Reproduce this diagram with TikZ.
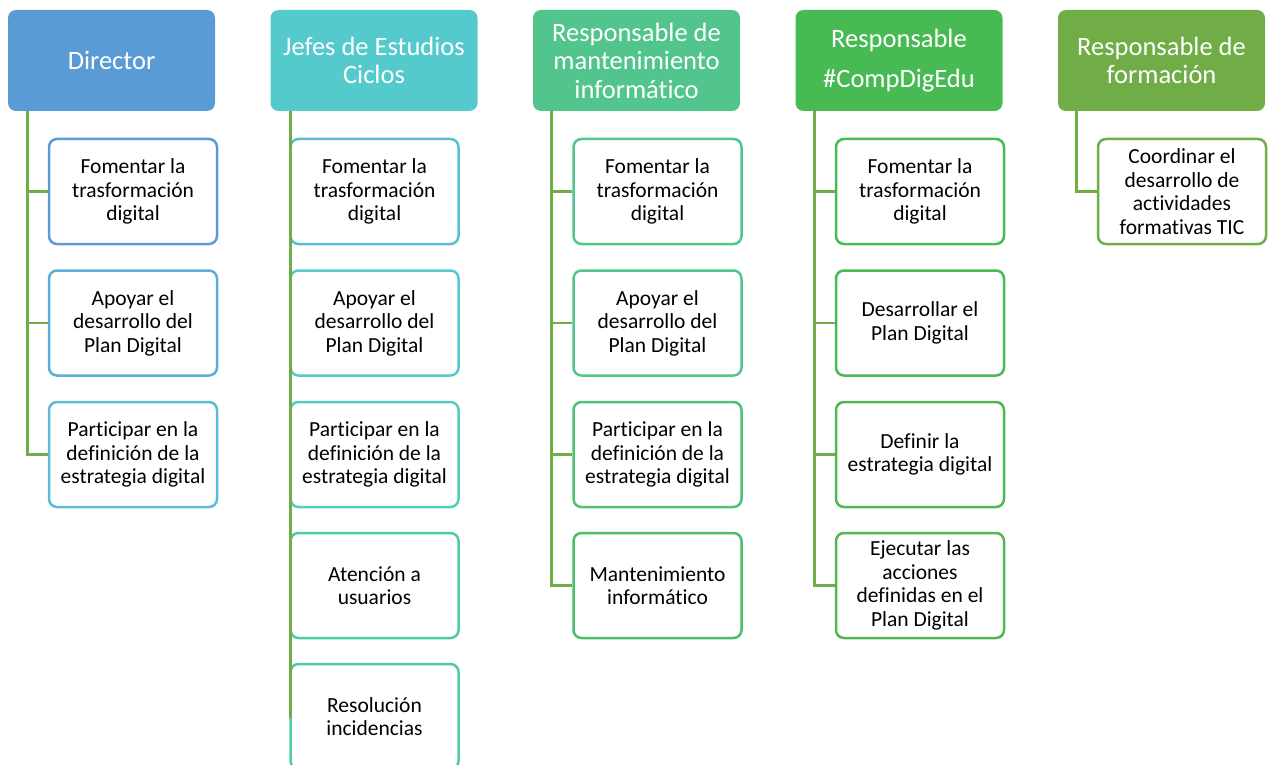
\documentclass[tikz,border=0pt]{standalone}
\usepackage{fontspec}
\setmainfont{Carlito}[Ligatures=NoCommon]
\usepackage{xcolor}
\usepackage{tikz}
\definecolor{ogblue}{HTML}{5B9BD5}
\definecolor{ogsky}{HTML}{5AAED8}
\definecolor{ogcyan}{HTML}{5BBCD6}
\definecolor{ogteal}{HTML}{54CACC}
\definecolor{ogaqua}{HTML}{53CCBF}
\definecolor{ogsea}{HTML}{4FC9A8}
\definecolor{ogmint}{HTML}{52C58D}
\definecolor{oggreen}{HTML}{47BA54}
\definecolor{ogolive}{HTML}{70AD47}

\begin{document}
\begin{tikzpicture}[x=1pt, y=-1pt,
  head/.style={rounded corners=8pt, minimum width=207pt, minimum height=101pt, inner sep=2pt, align=center, text=white, font=\fontsize{26.5}{28.5}\selectfont},
  task/.style={draw, line width=2.5pt, fill=white, rounded corners=8pt, minimum width=168pt, minimum height=105pt, inner sep=2pt, align=center, text=black, font=\fontsize{21.5}{23.5}\selectfont},
  link/.style={draw=ogolive, line width=2.7pt}]
  \useasboundingbox (0,0) rectangle (1272,765);
  \node[head, fill=ogblue] (dir) at (111.5,60.5) {Director};
  \node[head, fill=ogteal] (jef) at (374,60.5) {Jefes de Estudios\\Ciclos};
  \node[head, fill=ogmint] (man) at (636.5,60.5) {Responsable de\\mantenimiento\\informático};
  \node[head, fill=oggreen] (cdd) at (899,60.5) {Responsable\\[11pt]\#CompDigEdu};
  \node[head, fill=ogolive] (for) at (1161.5,60.5) {Responsable de\\formación};

  \node[task, draw=ogblue] (dir1) at (133,191.5) {Fomentar la\\trasformación\\digital};
  \node[task, draw=ogsky] (dir2) at (133,323) {Apoyar el\\desarrollo del\\Plan Digital};
  \node[task, draw=ogcyan] (dir3) at (133,454.5) {Participar en la\\definición de la\\estrategia digital};

  \node[task, draw=ogcyan] (jef1) at (374.5,191.5) {Fomentar la\\trasformación\\digital};
  \node[task, draw=ogteal] (jef2) at (374.5,323) {Apoyar el\\desarrollo del\\Plan Digital};
  \node[task, draw=ogaqua] (jef3) at (374.5,454.5) {Participar en la\\definición de la\\estrategia digital};
  \node[task, draw=ogsea] (jef4) at (374.5,585.5) {Atención a\\usuarios};
  \node[task, draw=ogsea] (jef5) at (374.5,716.5) {Resolución\\incidencias};

  \node[task, draw=ogmint] (man1) at (657.5,191.5) {Fomentar la\\trasformación\\digital};
  \node[task, draw=ogmint] (man2) at (657.5,323) {Apoyar el\\desarrollo del\\Plan Digital};
  \node[task, draw=ogmint!60!oggreen] (man3) at (657.5,454.5) {Participar en la\\definición de la\\estrategia digital};
  \node[task, draw=ogmint!40!oggreen] (man4) at (657.5,585.5) {Mantenimiento\\informático};

  \node[task, draw=oggreen] (cdd1) at (920,191.5) {Fomentar la\\trasformación\\digital};
  \node[task, draw=oggreen] (cdd2) at (920,323) {Desarrollar el\\Plan Digital};
  \node[task, draw=oggreen!80!ogolive] (cdd3) at (920,454.5) {Definir la\\estrategia digital};
  \node[task, draw=oggreen!70!ogolive] (cdd4) at (920,585.5) {Ejecutar las\\acciones\\definidas en el\\Plan Digital};

  \node[task, draw=ogolive] (for1) at (1182,191.5) {Coordinar el\\desarrollo de\\actividades\\formativas TIC};

  \draw[link] ([xshift=20pt]dir.south west) |- (dir1.west);
  \draw[link] ([xshift=20pt]dir.south west) |- (dir2.west);
  \draw[link] ([xshift=20pt]dir.south west) |- (dir3.west);
  \draw[link] ([xshift=20pt]jef.south west) |- (jef1.west);
  \draw[link] ([xshift=20pt]jef.south west) |- (jef2.west);
  \draw[link] ([xshift=20pt]jef.south west) |- (jef3.west);
  \draw[link] ([xshift=20pt]jef.south west) |- (jef4.west);
  \draw[link] ([xshift=20pt]jef.south west) |- (jef5.west);
  \draw[link] ([xshift=19pt]man.south west) |- (man1.west);
  \draw[link] ([xshift=19pt]man.south west) |- (man2.west);
  \draw[link] ([xshift=19pt]man.south west) |- (man3.west);
  \draw[link] ([xshift=19pt]man.south west) |- (man4.west);
  \draw[link] ([xshift=19pt]cdd.south west) |- (cdd1.west);
  \draw[link] ([xshift=19pt]cdd.south west) |- (cdd2.west);
  \draw[link] ([xshift=19pt]cdd.south west) |- (cdd3.west);
  \draw[link] ([xshift=19pt]cdd.south west) |- (cdd4.west);
  \draw[link] ([xshift=19pt]for.south west) |- (for1.west);
\end{tikzpicture}
\end{document}
